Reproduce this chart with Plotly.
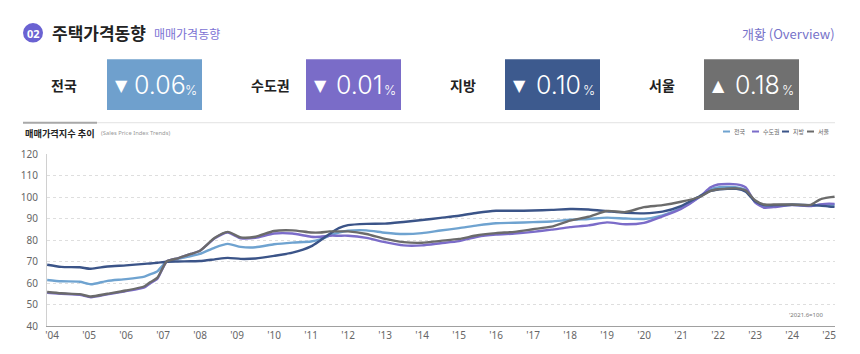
import plotly.graph_objects as go

# ---------------- data ----------------
years = [2003.87, 2004.25, 2004.75, 2005.05, 2005.5, 2006.0, 2006.5, 2006.65, 2006.85,
         2007.1, 2007.4, 2007.75, 2008.0, 2008.4, 2008.75, 2009.1, 2009.5, 2010.0, 2010.5,
         2011.0, 2011.25, 2011.5, 2011.75, 2012.0, 2012.5, 2013.0, 2013.5, 2014.0, 2014.5,
         2015.0, 2015.5, 2016.0, 2016.5, 2017.0, 2017.5, 2018.0, 2018.5, 2019.0, 2019.5,
         2020.0, 2020.5, 2021.0, 2021.5, 2021.8, 2022.0, 2022.5, 2022.75, 2023.0, 2023.25,
         2023.5, 2024.0, 2024.5, 2024.75, 2025.0, 2025.15]

nation = [61.4, 60.8, 60.6, 59.4, 61.0, 61.8, 63.0, 64.0, 65.5,
          70.0, 71.3, 72.5, 73.5, 76.5, 78.2, 76.8, 76.6, 78.0, 78.8,
          79.3, 80.3, 82.0, 83.5, 84.3, 84.5, 83.4, 82.8, 83.2, 84.4,
          85.5, 86.8, 87.8, 88.0, 88.3, 88.6, 89.4, 89.8, 90.4, 90.0,
          89.8, 91.5, 94.8, 100.0, 103.5, 104.5, 104.5, 103.3, 97.8, 95.5,
          95.8, 96.4, 96.0, 96.3, 96.5, 96.4]

capital = [55.5, 55.0, 54.5, 53.4, 54.7, 56.2, 58.0, 59.8, 62.0,
           70.0, 71.5, 73.5, 75.0, 80.8, 83.5, 80.8, 81.0, 83.0, 83.0,
           81.5, 81.5, 82.0, 82.0, 82.0, 81.0, 79.0, 77.5, 77.5, 78.5,
           79.5, 81.5, 82.5, 83.0, 83.8, 84.8, 86.0, 86.8, 88.2, 87.3,
           88.0, 91.0, 94.5, 100.0, 104.5, 105.8, 105.9, 104.5, 97.5, 95.0,
           95.3, 96.2, 95.8, 96.5, 96.9, 96.8]

regions = [68.5, 67.5, 67.3, 66.6, 67.7, 68.2, 68.9, 69.1, 69.4,
           69.9, 70.0, 70.1, 70.2, 71.0, 71.7, 71.2, 71.4, 72.6, 74.1,
           77.0, 79.8, 82.8, 85.5, 86.9, 87.5, 87.6, 88.4, 89.3, 90.3,
           91.3, 92.7, 93.6, 93.6, 93.7, 94.0, 94.4, 94.2, 93.4, 92.6,
           92.4, 93.2, 95.8, 100.3, 102.8, 103.5, 103.8, 102.5, 98.0, 96.3,
           96.2, 96.4, 96.2, 96.0, 95.6, 95.4]

seoul = [55.8, 55.2, 54.8, 53.7, 55.0, 56.5, 58.5, 60.3, 62.5,
         70.0, 71.5, 73.5, 75.0, 81.0, 83.8, 81.2, 81.5, 84.2, 84.5,
         83.5, 83.5, 84.0, 84.0, 84.0, 82.8, 80.5, 79.0, 78.7, 79.6,
         80.5, 82.2, 83.2, 83.8, 85.0, 86.2, 89.0, 90.8, 93.5, 93.0,
         95.3, 96.2, 97.8, 100.0, 102.8, 103.6, 104.0, 103.0, 98.5, 96.5,
         96.5, 96.5, 96.3, 98.8, 99.8, 100.1]

series_names = ["전국", "수도권", "지방", "서울"]
series_values = [nation, capital, regions, seoul]
series_colors = ["#6fa3d0", "#7b6cc9", "#3b5488", "#6b6b6b"]

kpi_values = ["0.06", "0.01", "0.10", "0.18"]
kpi_arrows = ["▼", "▼", "▼", "▲"]

tick_years = list(range(2004, 2026))
tick_labels = ["'%02d" % (y % 100) for y in tick_years]
y_ticks = [40, 50, 60, 70, 80, 90, 100, 110, 120]

# ---------------- layout geometry ----------------
W, H = 860, 354
L, R, T, B = 47, 835, 154, 330


def px(x):
    return (x - L) / (R - L)


def py(y):
    return (B - y) / (B - T)


KR = "Noto Sans CJK KR"

fig = go.Figure()
for name, vals, col in zip(series_names, series_values, series_colors):
    fig.add_trace(go.Scatter(x=years, y=vals, name=name, mode="lines",
                             line=dict(color=col, width=2.4, shape="spline", smoothing=0.6),
                             showlegend=False))

shapes = []
ann = []

# header
shapes.append(dict(type="circle", xref="paper", yref="paper",
                   x0=px(23), x1=px(43), y0=py(40), y1=py(20),
                   fillcolor="#6a62d2", line=dict(width=0)))
ann.append(dict(x=px(33), y=py(30.5), text="<b>02</b>",
                font=dict(family="Noto Sans", size=11, color="white")))
ann.append(dict(x=px(50), y=py(30), xanchor="left", text="<b>주택가격동향</b>",
                font=dict(family=KR, size=17, color="#222")))
ann.append(dict(x=px(152), y=py(31), xanchor="left", text="매매가격동향",
                font=dict(family=KR, size=12, color="#7c72d4")))
ann.append(dict(x=px(837), y=py(31), xanchor="right", text="개황 (Overview)",
                font=dict(family=KR, size=13, color="#7672c9")))

# KPI boxes
label_x = [64, 270, 463, 662]
box_x0 = [107, 306, 505, 704]
box_colors = ["#6fa0cd", "#7a6cc8", "#3d5a8e", "#707070"]
for name, lx, bx, bc, val, arr in zip(series_names, label_x, box_x0, box_colors, kpi_values, kpi_arrows):
    ann.append(dict(x=px(lx), y=py(83), text="<b>%s</b>" % name,
                    font=dict(family=KR, size=14, color="#222")))
    shapes.append(dict(type="rect", xref="paper", yref="paper",
                       x0=px(bx), x1=px(bx + 95), y0=py(109), y1=py(57),
                       fillcolor=bc, line=dict(width=0)))
    ann.append(dict(x=px(bx + 14), y=py(84), text=arr,
                    font=dict(family="DejaVu Sans", size=16, color="white")))
    ann.append(dict(x=px(bx + 53), y=py(83), text=val,
                    font=dict(family="Inter", size=25, color="white", weight=300)))
    ann.append(dict(x=px(bx + 84), y=py(88), text="%",
                    font=dict(family="Inter", size=13, color="white", weight=300)))

# separator
shapes.append(dict(type="line", xref="paper", yref="paper", x0=px(23), x1=px(835),
                   y0=py(122), y1=py(122), line=dict(color="#e2e2e2", width=1)))
shapes.append(dict(type="line", xref="paper", yref="paper", x0=px(23), x1=px(97),
                   y0=py(122), y1=py(122), line=dict(color="#a8a8a8", width=2)))

# chart title
ann.append(dict(x=px(23), y=py(132), xanchor="left", text="<b>매매가격지수 추이</b>",
                font=dict(family=KR, size=9.2, color="#222")))
ann.append(dict(x=px(99), y=py(133), xanchor="left", text="(Sales Price Index Trends)",
                font=dict(family="Noto Sans", size=5.8, color="#999")))

# legend (manual)
leg_x = [723, 752, 782, 807]
for name, lx, col in zip(series_names, leg_x, series_colors):
    shapes.append(dict(type="line", xref="paper", yref="paper", x0=px(lx), x1=px(lx + 7),
                       y0=py(131), y1=py(131), line=dict(color=col, width=2)))
    ann.append(dict(x=px(lx + 9), y=py(131), xanchor="left", text=name,
                    font=dict(family=KR, size=6, color="#666")))

# note
ann.append(dict(x=px(825), y=py(319), xanchor="right", text="'2021.6=100",
                font=dict(family="Noto Sans", size=6, color="#777")))

for a in ann:
    a.setdefault("xref", "paper")
    a.setdefault("yref", "paper")
    a.setdefault("showarrow", False)
    a.setdefault("xanchor", "center")
    a.setdefault("yanchor", "middle")

fig.update_layout(
    width=W, height=H,
    margin=dict(l=L, r=W - R, t=T, b=H - B),
    paper_bgcolor="white", plot_bgcolor="white",
    shapes=shapes, annotations=ann,
    xaxis=dict(range=[2003.865, 2025.162], tickmode="array", tickvals=tick_years,
               ticktext=tick_labels, showgrid=False, zeroline=False,
               showline=True, linecolor="#a0a0a0", linewidth=1, ticks="",
               tickfont=dict(family="Noto Sans", size=10, color="#666")),
    yaxis=dict(range=[40, 120], tickmode="array", tickvals=y_ticks,
               showgrid=True, gridcolor="#dedede", griddash="dot", gridwidth=1,
               zeroline=False, showline=True, linecolor="#d0d0d0", linewidth=1,
               ticks="", ticklabelstandoff=6,
               tickfont=dict(family="Noto Sans", size=10, color="#666")),
)

fig.write_html("out.html")
